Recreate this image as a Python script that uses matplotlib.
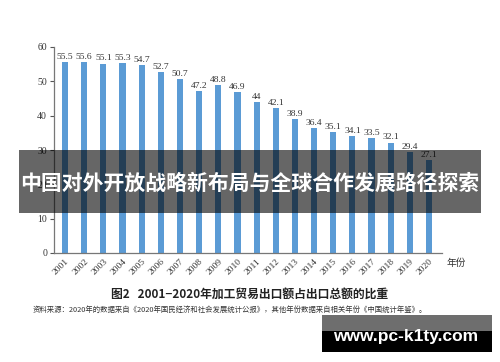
import matplotlib
matplotlib.use("Agg")
import matplotlib.pyplot as plt
from matplotlib.patches import Rectangle

years = [str(y) for y in range(2001, 2021)]
shares = [55.5, 55.6, 55.1, 55.3, 54.7, 52.7, 50.7, 47.2, 48.8, 46.9,
          44, 42.1, 38.9, 36.4, 35.1, 34.1, 33.5, 32.1, 29.4, 27.1]
yticks = [0, 10, 20, 30, 40, 50, 60]

overlay_title = "中国对外开放战略新布局与全球合作发展路径探索"
caption = "图2   2001−2020年加工贸易出口额占出口总额的比重"
source = "资料来源：2020年的数据来自《2020年国民经济和社会发展统计公报》，其他年份数据来自相关年份《中国统计年鉴》。"
watermark = "www.pc-k1ty.com"

W, H = 500, 362
fig = plt.figure(figsize=(5, 3.62), dpi=100)
fig.patch.set_facecolor("white")

serif = ["Liberation Serif", "Noto Sans CJK SC", "DejaVu Serif"]
cjk = ["Noto Sans CJK SC", "DejaVu Sans"]

ax = fig.add_axes([54 / W, 1 - 253 / H, (442 - 54) / W, (253 - 47) / H])
x = list(range(len(years)))
bars = ax.bar(x, shares, width=0.32, color="#5b9bd5", zorder=2)
for xi, v in zip(x, shares):
    lbl = f"{v:g}"
    ax.text(xi, v + 0.4, lbl, ha="center", va="bottom", fontsize=6.8,
            family=serif, color="#333333")

ax.set_xlim(-0.58, 19.68)
ax.set_ylim(0, 60)
ax.set_yticks(yticks)
ax.set_yticklabels([str(t) for t in yticks], fontsize=7, family=serif, color="#333333")
ax.set_xticks(x)
ax.set_xticklabels(years, rotation=45, ha="right", rotation_mode="anchor",
                   fontsize=6.8, family=serif, color="#333333")
ax.tick_params(axis="x", length=0, pad=3)
ax.tick_params(axis="y", length=3, width=0.8, color="#555555", pad=2)
for s in ["top", "right"]:
    ax.spines[s].set_visible(False)
for s in ["left", "bottom"]:
    ax.spines[s].set_color("#777777")
    ax.spines[s].set_linewidth(0.9)

fig.text(447 / W, 1 - 263 / H, "年份", fontsize=7, family=cjk, color="#333333",
         ha="left", va="center")

fig.text(250 / W, 1 - 294 / H, caption, fontsize=8.5, family=cjk, weight="bold",
         color="#222222", ha="center", va="center")
fig.text(33 / W, 1 - 310 / H, source, fontsize=5.3, family=cjk,
         color="#333333", ha="left", va="center")

# overlay band
fig.patches.append(Rectangle((19 / W, 1 - 213 / H), (481 - 19) / W, (213 - 150) / H,
                             transform=fig.transFigure, facecolor="black",
                             alpha=0.6, edgecolor="none", zorder=5))
fig.text(250 / W, 1 - 183 / H, overlay_title, fontsize=15, family=cjk,
         weight="bold", color="white", ha="center", va="center", zorder=6)

# watermark
fig.patches.append(Rectangle((322 / W, 1 - 331 / H), (492 - 322) / W, (331 - 315) / H,
                             transform=fig.transFigure, facecolor="#6e6e6e",
                             edgecolor="none", zorder=5))
fig.patches.append(Rectangle((322 / W, 1 - 352 / H), (492 - 322) / W, (352 - 331) / H,
                             transform=fig.transFigure, facecolor="black",
                             edgecolor="none", zorder=5))
fig.text(406 / W, 1 - 337 / H, watermark, fontsize=12.5, family=["Liberation Sans", "DejaVu Sans"],
         weight="bold", color="white", ha="center", va="center", zorder=6)

fig.savefig("out.png", dpi=100)
